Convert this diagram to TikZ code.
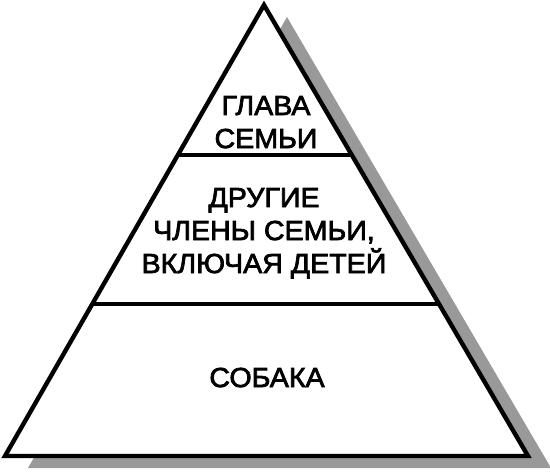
\documentclass[tikz,border=0pt]{standalone}
\usepackage{fontspec}
\newfontfamily\pyrfont[FakeStretch=1.04, FakeBold=2.6]{Liberation Sans}
\usetikzlibrary{calc}

\begin{document}
\begin{tikzpicture}[x=1pt, y=-1pt,
    edge line/.style={line width=4.4pt, line join=miter},
    level line/.style={line width=3.6pt},
    level/.style={font=\pyrfont\fontsize{27.5}{33}\selectfont, align=center, anchor=base, inner sep=0pt}]
    \useasboundingbox (0,0) rectangle (550,472);
    \coordinate (top) at (264,5);
    \coordinate (left) at (5,456);
    \coordinate (right) at (528,456);
    % shadow
    \fill[black!40] ([shift={(23,12)}]top) -- ([shift={(23,12)}]right) -- ([shift={(23,12)}]left) -- cycle;
    \draw[edge line, fill=white] (top) -- (right) -- (left) -- cycle;
    % levels
    \draw[level line] ($(top)!0.333!(left)$) -- ($(top)!0.333!(right)$);
    \draw[level line] ($(top)!0.663!(left)$) -- ($(top)!0.663!(right)$);
    \node[level] (glava) at (266,148) {ГЛАВА\\СЕМЬИ};
    \node[level] (drugie) at (264,273) {ДРУГИЕ\\ЧЛЕНЫ СЕМЬИ,\\ВКЛЮЧАЯ ДЕТЕЙ};
    \node[level] (sobaka) at (267,387) {СОБАКА};
\end{tikzpicture}
\end{document}
